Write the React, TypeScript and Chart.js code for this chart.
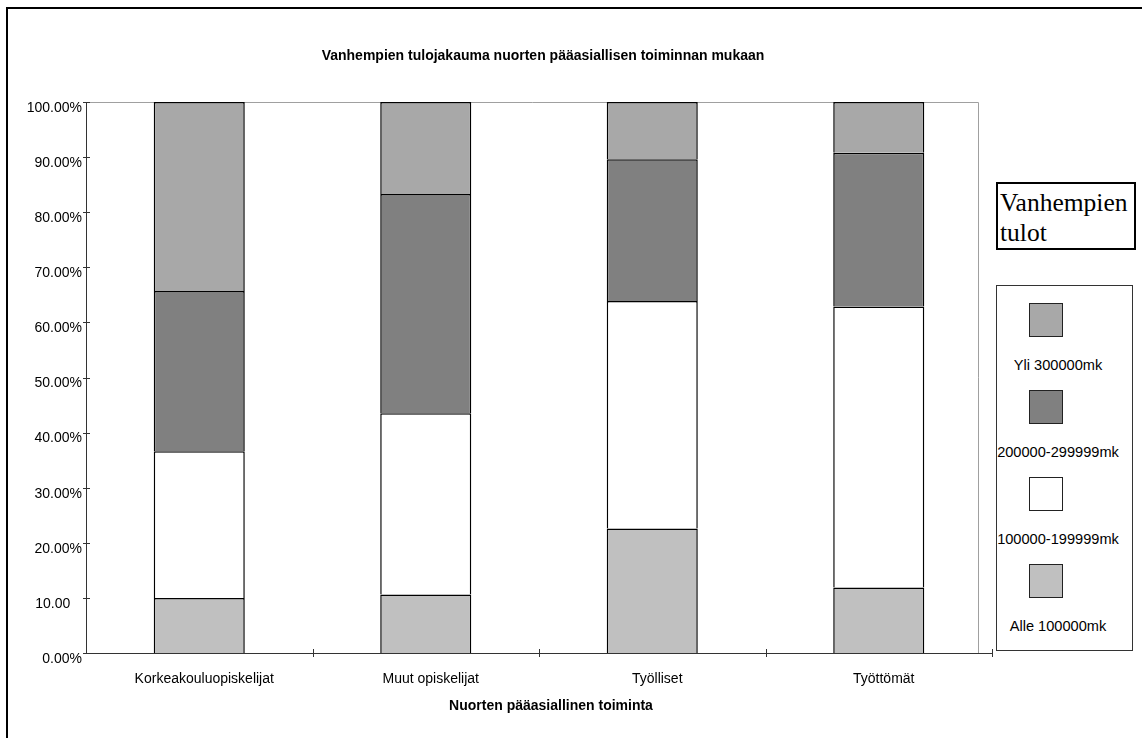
import React, { useEffect, useRef } from "react";
import { Chart, registerables } from "chart.js";

Chart.register(...registerables);

const categories = ["Korkeakouluopiskelijat", "Muut opiskelijat", "Työlliset", "Työttömät"];
const seriesLabels = ["Alle 100000mk", "100000-199999mk", "200000-299999mk", "Yli 300000mk"];
const alle100000 = [10.0, 10.6, 22.6, 11.9];
const from100000to199999 = [26.6, 32.9, 41.3, 51.0];
const from200000to299999 = [29.1, 39.8, 25.7, 27.9];
const yli300000 = [34.3, 16.7, 10.4, 9.2];
const seriesColors = ["#C0C0C0", "#FFFFFF", "#808080", "#A8A8A8"];
const yTickLabels = [
  "0.00%",
  "10.00   ",
  "20.00%",
  "30.00%",
  "40.00%",
  "50.00%",
  "60.00%",
  "70.00%",
  "80.00%",
  "90.00%",
  "100.00%",
];
const chartTitle = "Vanhempien tulojakauma nuorten pääasiallisen toiminnan mukaan";
const xAxisTitle = "Nuorten pääasiallinen toiminta";
const legendTitleLines = ["Vanhempien", "tulot"];

const seriesValues = [alle100000, from100000to199999, from200000to299999, yli300000];
const FONT = "'Liberation Sans', Arial, sans-serif";

const decorPlugin = {
  id: "decor",
  beforeDatasetsDraw(chart: any) {
    const { ctx, chartArea: a } = chart;
    ctx.save();
    ctx.strokeStyle = "#a0a0a0";
    ctx.lineWidth = 1;
    const r = Math.round(a.right - 14) + 0.5;
    const t = Math.round(a.top) + 0.5;
    ctx.beginPath();
    ctx.moveTo(a.left, t);
    ctx.lineTo(r, t);
    ctx.lineTo(r, a.bottom);
    ctx.stroke();
    ctx.restore();
  },
  afterDraw(chart: any) {
    const { ctx, chartArea: a, scales } = chart;
    ctx.save();
    ctx.strokeStyle = "#333333";
    ctx.lineWidth = 1;
    ctx.beginPath();
    const y = scales.y;
    y.ticks.forEach((tk: any) => {
      const py = Math.round(y.getPixelForValue(tk.value)) + 0.5;
      ctx.moveTo(a.left - 3, py);
      ctx.lineTo(a.left + 4, py);
    });
    const n = categories.length;
    const w = (a.right - a.left) / n;
    for (let i = 1; i <= n; i++) {
      const px = Math.round(a.left + i * w) + 0.5;
      ctx.moveTo(px, a.bottom - 4);
      ctx.lineTo(px, a.bottom + 4);
    }
    ctx.stroke();
    ctx.fillStyle = "#000";
    ctx.textAlign = "center";
    ctx.textBaseline = "middle";
    ctx.font = `bold 14px ${FONT}`;
    ctx.fillText(chartTitle, (a.left + a.right) / 2 + 4, a.top - 46);
    ctx.fillText(xAxisTitle, (a.left + a.right) / 2 + 12, a.bottom + 53);
    ctx.restore();
  },
};

export default function App() {
  const canvasRef = useRef<HTMLCanvasElement | null>(null);

  useEffect(() => {
    if (!canvasRef.current) return;
    const chart = new Chart(canvasRef.current, {
      type: "bar",
      data: {
        labels: categories,
        datasets: seriesValues.map((vals, i) => ({
          label: seriesLabels[i],
          data: vals,
          backgroundColor: seriesColors[i],
          borderColor: "#000000",
          borderWidth: 1.5,
          borderSkipped: "bottom",
          barPercentage: 0.402,
          categoryPercentage: 1,
        })),
      },
      options: {
        animation: false,
        responsive: false,
        maintainAspectRatio: false,
        layout: { padding: { left: 0, right: 94, top: 102, bottom: 0 } },
        plugins: {
          legend: { display: false },
          tooltip: { enabled: false },
          title: { display: false },
        },
        scales: {
          x: {
            stacked: true,
            offset: true,
            grid: { display: false, drawTicks: false },
            border: { display: true, color: "#333333", width: 1 },
            ticks: {
              color: "#000",
              font: { family: FONT, size: 14 },
              padding: 18,
              labelOffset: 5,
              maxRotation: 0,
              autoSkip: false,
            },
            afterFit: (scale: any) => {
              scale.height = 85;
            },
          },
          y: {
            stacked: true,
            min: 0,
            max: 100,
            grid: { display: false, drawTicks: false },
            border: { display: true, color: "#333333", width: 1 },
            ticks: {
              stepSize: 10,
              color: "#000",
              font: { family: FONT, size: 14 },
              padding: 4,
              labelOffset: 6,
              callback: (_v: any, idx: number) => yTickLabels[idx],
            },
            afterFit: (scale: any) => {
              scale.width = 86;
            },
          },
        },
      },
      plugins: [decorPlugin],
    });
    return () => chart.destroy();
  }, []);

  const legendOrder = [3, 2, 1, 0];

  return (
    <div
      style={{
        position: "absolute",
        left: 0,
        top: 0,
        width: 1142,
        height: 738,
        overflow: "hidden",
        background: "#fff",
      }}
    >
      <div
        style={{
          position: "absolute",
          left: 6,
          top: 7,
          width: 1200,
          height: 800,
          borderLeft: "2px solid #000",
          borderTop: "2px solid #000",
          boxSizing: "border-box",
        }}
      />
      <canvas
        ref={canvasRef}
        width={1086}
        height={738}
        style={{ position: "absolute", left: 0, top: 0, width: 1086, height: 738 }}
      />
      <div
        style={{
          position: "absolute",
          left: 996,
          top: 182,
          width: 140,
          height: 68,
          border: "2px solid #000",
          boxSizing: "border-box",
          background: "#fff",
          fontFamily: "'Liberation Serif', 'Times New Roman', serif",
          fontSize: 25.5,
          lineHeight: "30px",
          paddingLeft: 2,
          paddingTop: 4,
          color: "#000",
          whiteSpace: "nowrap",
          overflow: "hidden",
        }}
      >
        {legendTitleLines.map((l, i) => (
          <div key={i}>{l}</div>
        ))}
      </div>
      <div
        style={{
          position: "absolute",
          left: 996,
          top: 285,
          width: 137,
          height: 366,
          border: "1px solid #333",
          boxSizing: "border-box",
          background: "#fff",
        }}
      >
        {legendOrder.map((si, k) => (
          <div key={si}>
            <div
              style={{
                position: "absolute",
                left: 32,
                top: 17 + k * 87,
                width: 34,
                height: 34,
                boxSizing: "border-box",
                border: "1px solid #222",
                background: seriesColors[si],
              }}
            />
            <div
              style={{
                position: "absolute",
                left: 0,
                top: 71 + k * 87,
                width: 122,
                height: 16,
                lineHeight: "16px",
                textAlign: "center",
                fontFamily: FONT,
                fontSize: 14.6,
                color: "#000",
                whiteSpace: "nowrap",
              }}
            >
              {seriesLabels[si]}
            </div>
          </div>
        ))}
      </div>
    </div>
  );
}
